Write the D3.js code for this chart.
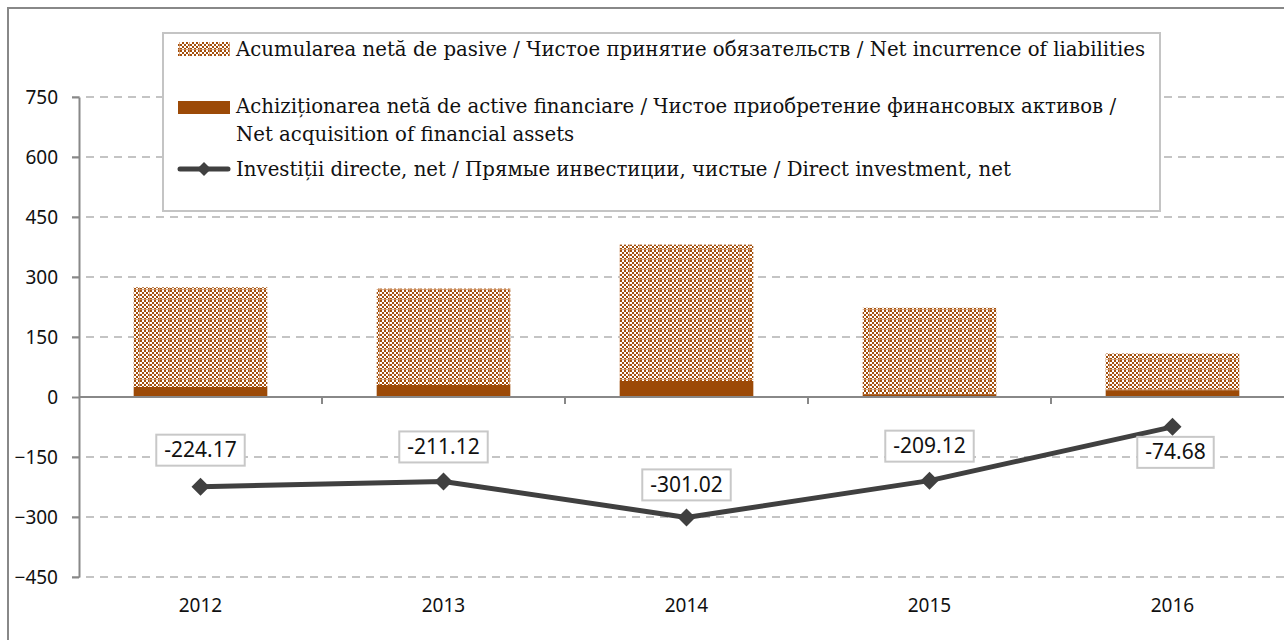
<!DOCTYPE html>
<html><head><meta charset="utf-8">
<script src="https://cdn.jsdelivr.net/npm/d3@7"></script>
<style>
html,body{margin:0;padding:0;background:#fff;}
svg{display:block;}
</style></head>
<body>
<svg id="chart" width="1284" height="640"></svg>
<script>
const years = ["2012","2013","2014","2015","2016"];
const assets = [25, 30, 40, 7, 17];                 // Net acquisition of financial assets
const liabilities = [249.2, 241.1, 341.0, 216.1, 91.7]; // Net incurrence of liabilities
const directNet = [-224.17, -211.12, -301.02, -209.12, -74.68];
const yTicks = [-450, -300, -150, 0, 150, 300, 450, 600, 750];
const legendLabels = [
  "Acumularea netă de pasive / Чистое принятие обязательств / Net incurrence of liabilities",
  ["Achiziționarea netă de active financiare / Чистое приобретение финансовых активов /", "Net acquisition of financial assets"],
  "Investiții directe, net / Прямые инвестиции, чистые / Direct investment, net"
];

const svg = d3.select("#chart");
const brown = "#9c4a07";
const lineCol = "#404040";
const axisCol = "#888888";
const gridCol = "#c4c4c4";
const sans = "'Noto Sans', 'Liberation Sans', sans-serif";
const serif = "'DejaVu Serif', serif";

// pattern
const defs = svg.append("defs");
const pat = defs.append("pattern").attr("id","chk").attr("patternUnits","userSpaceOnUse")
  .attr("width",10).attr("height",10);
pat.append("rect").attr("width",10).attr("height",10).attr("fill","#fff");
for (let i=0;i<5;i++) for (let j=0;j<5;j++) {
  if ((i+j)%2===0) pat.append("rect").attr("x",i*2).attr("y",j*2).attr("width",2).attr("height",2).attr("fill","#a34f0c");
}
pat.append("rect").attr("x",9).attr("y",0).attr("width",1).attr("height",10).attr("fill","#d49a6c").attr("opacity",0.8);
pat.append("rect").attr("x",0).attr("y",9).attr("width",10).attr("height",1).attr("fill","#d49a6c").attr("opacity",0.8);

// outer frame
svg.append("rect").attr("x",8).attr("y",8).attr("width",1290).attr("height",700)
  .attr("fill","none").attr("stroke",axisCol).attr("stroke-width",2);

const x = d3.scaleBand().domain(years).range([79, 1294]).paddingInner(0.45).paddingOuter(0.225);
const y = d3.scaleLinear().domain([-450, 750]).range([577, 97]);

// gridlines
svg.append("g").selectAll("line").data(yTicks.filter(d=>d!==0)).join("line")
  .attr("x1",72).attr("x2",1284).attr("y1",d=>y(d)).attr("y2",d=>y(d))
  .attr("stroke",gridCol).attr("stroke-width",2).attr("stroke-dasharray","8,6");

// y axis
const yAxis = svg.append("g").attr("transform","translate(79,0)")
  .call(d3.axisLeft(y).tickValues(yTicks).tickSize(7).tickPadding(14).tickSizeOuter(0));
yAxis.select(".domain").attr("stroke",axisCol).attr("stroke-width",2);
yAxis.selectAll(".tick line").attr("stroke",axisCol).attr("stroke-width",2);
yAxis.selectAll(".tick text").attr("font-family",sans).attr("font-size",19).attr("fill","#111");

// bars: stacked
const bars = svg.append("g");
bars.selectAll(".liab").data(years).join("rect").attr("class","liab")
  .attr("x",d=>x(d)).attr("width",x.bandwidth())
  .attr("y",(d,i)=>y(assets[i]+liabilities[i]))
  .attr("height",(d,i)=>y(assets[i])-y(assets[i]+liabilities[i]))
  .attr("fill","url(#chk)");
bars.selectAll(".ass").data(years).join("rect").attr("class","ass")
  .attr("x",d=>x(d)).attr("width",x.bandwidth())
  .attr("y",(d,i)=>y(assets[i])).attr("height",(d,i)=>y(0)-y(assets[i]))
  .attr("fill",brown);

// zero line & x ticks
svg.append("line").attr("x1",79).attr("x2",1294).attr("y1",y(0)).attr("y2",y(0))
  .attr("stroke",axisCol).attr("stroke-width",2);
const step = x.step();
svg.append("g").selectAll("line").data(years.slice(1)).join("line")
  .attr("x1",d=>x(d)-(step-x.bandwidth())/2).attr("x2",d=>x(d)-(step-x.bandwidth())/2)
  .attr("y1",y(0)).attr("y2",y(0)+7).attr("stroke",axisCol).attr("stroke-width",2);

// x labels
svg.append("g").selectAll("text").data(years).join("text")
  .attr("x",d=>x(d)+x.bandwidth()/2).attr("y",612)
  .attr("text-anchor","middle").attr("font-family",sans).attr("font-size",19).attr("fill","#111")
  .text(d=>d);

// line
const cx = (d,i)=>x(years[i])+x.bandwidth()/2;
svg.append("path").datum(directNet)
  .attr("d", d3.line().x((d,i)=>cx(d,i)).y(d=>y(d)))
  .attr("fill","none").attr("stroke",lineCol).attr("stroke-width",5).attr("stroke-linejoin","round");
const diamond = r => `M0,${-r}L${r},0L0,${r}L${-r},0Z`;
svg.append("g").selectAll("path").data(directNet).join("path")
  .attr("transform",(d,i)=>`translate(${cx(d,i)},${y(d)})`)
  .attr("d",diamond(9)).attr("fill",lineCol);

// data labels
const labelDy = [-37, -35, -33, -35, 25];
const lg = svg.append("g").selectAll("g").data(directNet).join("g")
  .attr("transform",(d,i)=>`translate(${cx(d,i)+(i===4?3:0)},${y(d)+labelDy[i]})`);
lg.append("text").attr("text-anchor","middle").attr("dy","0.36em")
  .attr("font-family",sans).attr("font-size",21).attr("fill","#111")
  .text(d=>d.toFixed(2));
lg.each(function(){
  const g = d3.select(this);
  const bb = g.select("text").node().getBBox();
  g.insert("rect","text").attr("x",bb.x-8).attr("y",-15).attr("width",bb.width+16).attr("height",31)
    .attr("fill","#fff").attr("stroke","#c8c8c8").attr("stroke-width",2);
});

// legend
const leg = svg.append("g");
leg.append("rect").attr("x",163).attr("y",33).attr("width",997).attr("height",178)
  .attr("fill","#fff").attr("stroke","#c4c4c4").attr("stroke-width",2);
leg.append("rect").attr("x",178).attr("y",42).attr("width",52).attr("height",14).attr("fill","url(#chk)");
leg.append("rect").attr("x",178).attr("y",101).attr("width",52).attr("height",13).attr("fill",brown);
leg.append("line").attr("x1",180).attr("x2",228).attr("y1",169).attr("y2",169)
  .attr("stroke",lineCol).attr("stroke-width",5).attr("stroke-linecap","round");
leg.append("path").attr("transform","translate(204,169)").attr("d",diamond(7)).attr("fill",lineCol);
const lt = (t,yy)=>leg.append("text").attr("x",236).attr("y",yy).attr("font-family",serif)
  .attr("font-size",20).attr("fill","#111").text(t);
const t0 = lt(legendLabels[0],56);
const t1 = lt(legendLabels[1][0],113);
const t2 = lt(legendLabels[1][1],141);
const t3 = lt(legendLabels[2],176);
// fit font size so first line spans like the reference
const w = t0.node().getComputedTextLength();
const fs = Math.min(24, Math.max(16, 20 * 910 / w));
[t0,t1,t2,t3].forEach(t=>t.attr("font-size",fs));
</script>
</body></html>
